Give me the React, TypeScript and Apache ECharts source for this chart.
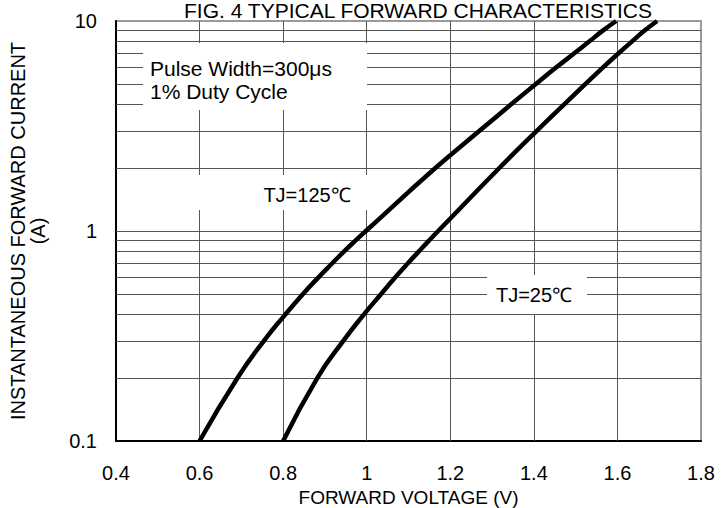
import React, { useEffect, useRef } from "react";
import * as echarts from "echarts";

const titleText = "FIG. 4 TYPICAL FORWARD CHARACTERISTICS";
const xAxisName = "FORWARD VOLTAGE (V)";
const yAxisName = "INSTANTANEOUS FORWARD CURRENT\n(A)";

// TJ = 125 °C : [voltage V, current A]
const tj125: [number, number][] = [
  [0.6, 0.1], [0.691, 0.2], [0.754, 0.3], [0.805, 0.4], [0.847, 0.5],
  [0.884, 0.6], [0.917, 0.7], [0.946, 0.8], [0.973, 0.9], [0.998, 1.0],
  [1.165, 2], [1.27, 3], [1.345, 4], [1.404, 5], [1.453, 6],
  [1.496, 7], [1.533, 8], [1.565, 9], [1.597, 10],
];

// TJ = 25 °C
const tj25: [number, number][] = [
  [0.8, 0.1], [0.882, 0.2], [0.944, 0.3], [0.993, 0.4], [1.034, 0.5],
  [1.068, 0.6], [1.098, 0.7], [1.125, 0.8], [1.149, 0.9], [1.171, 1.0],
  [1.318, 2], [1.407, 3], [1.472, 4], [1.523, 5], [1.565, 6],
  [1.602, 7], [1.635, 8], [1.665, 9], [1.695, 10],
];

const xGridValues = [0.6, 0.8, 1.0, 1.2, 1.4, 1.6];
const yGridValues = [0.2, 0.3, 0.4, 0.5, 0.6, 0.7, 0.8, 0.9, 1, 2, 3, 4, 5, 6, 7, 8, 9];

const noteText = "Pulse Width=300μs\n1% Duty Cycle";
const label125 = "TJ=125℃";
const label25 = "TJ=25℃";

const FONT = "'Liberation Sans', Arial, sans-serif";

export default function App() {
  const ref = useRef<HTMLDivElement>(null);
  useEffect(() => {
    if (!ref.current) return;
    const chart = echarts.init(ref.current, undefined, { renderer: "svg" });
    chart.setOption({
      animation: false,
      backgroundColor: "#ffffff",
      title: {
        text: titleText,
        left: 184,
        top: 0,
        padding: 0,
        textStyle: { fontSize: 21, fontWeight: "normal", color: "#000", fontFamily: FONT, lineHeight: 21 },
      },
      grid: {
        left: 116,
        right: 26,
        top: 21,
        bottom: 67,
        outerBoundsMode: "none",
        containLabel: false,
        show: true,
        borderColor: "#9a9a9a",
        borderWidth: 2,
        backgroundColor: "transparent",
      },
      xAxis: {
        type: "value",
        min: 0.4,
        max: 1.8,
        interval: 0.2,
        name: xAxisName,
        nameLocation: "middle",
        nameGap: 39,
        nameTextStyle: { fontSize: 19, color: "#000", fontFamily: FONT, lineHeight: 19 },
        axisLine: { show: true, lineStyle: { color: "#000", width: 2 } },
        axisTick: { show: false },
        splitLine: { show: false },
        axisLabel: { fontSize: 20, color: "#000", margin: 22, fontFamily: FONT },
      },
      yAxis: {
        type: "log",
        logBase: 10,
        min: 0.1,
        max: 10,
        name: yAxisName,
        nameLocation: "middle",
        nameRotate: 90,
        nameGap: 68,
        nameTextStyle: { fontSize: 20, color: "#000", fontFamily: FONT, lineHeight: 20, align: "center" },
        axisLine: { show: true, lineStyle: { color: "#000", width: 2 } },
        axisTick: { show: false },
        splitLine: { show: false },
        minorSplitLine: { show: false },
        axisLabel: { fontSize: 20, color: "#000", margin: 19, fontFamily: FONT },
      },
      graphic: [
        { type: "rect", z: 10, shape: { x: 143, y: 43, width: 224, height: 67 }, style: { fill: "#fff" } },
        {
          type: "text", z: 11, x: 150, y: 57,
          style: { text: noteText, font: `21px ${FONT}`, lineHeight: 23, fill: "#000" },
        },
        { type: "rect", z: 10, shape: { x: 190, y: 175, width: 180, height: 35 }, style: { fill: "#fff" } },
        {
          type: "text", z: 11, x: 307, y: 195,
          style: { text: label125, font: `20px ${FONT}`, fill: "#000", align: "center", verticalAlign: "middle" },
        },
        { type: "rect", z: 10, shape: { x: 487, y: 275, width: 100, height: 39 }, style: { fill: "#fff" } },
        {
          type: "text", z: 11, x: 534, y: 295,
          style: { text: label25, font: `20px ${FONT}`, fill: "#000", align: "center", verticalAlign: "middle" },
        },
      ],
      series: [
        {
          type: "line",
          name: "grid",
          z: 1,
          data: [],
          silent: true,
          markLine: {
            silent: true,
            symbol: ["none", "none"],
            label: { show: false },
            lineStyle: { color: "#555", width: 1, type: "solid" },
            emphasis: { disabled: true },
            data: [
              ...yGridValues.map((v) => ({ yAxis: v })),
              ...xGridValues.map((v) => ({ xAxis: v })),
            ],
          },
        },
        {
          type: "line",
          name: label125,
          z: 5,
          data: tj125,
          smooth: 0.5,
          showSymbol: false,
          lineStyle: { color: "#000", width: 4.5 },
        },
        {
          type: "line",
          name: label25,
          z: 5,
          data: tj25,
          smooth: 0.5,
          showSymbol: false,
          lineStyle: { color: "#000", width: 4.5 },
        },
      ],
    });
    return () => chart.dispose();
  }, []);
  return (
    <div
      ref={ref}
      style={{ position: "fixed", left: 0, top: 0, width: 727, height: 508, background: "#fff" }}
    />
  );
}
